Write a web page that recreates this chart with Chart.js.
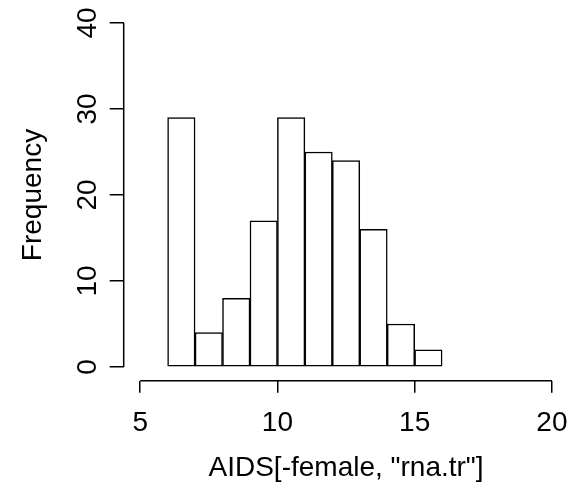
<!DOCTYPE html>
<html>
<head>
<meta charset="utf-8">
<script src="https://cdn.jsdelivr.net/npm/chart.js@4/dist/chart.umd.min.js"></script>
<style>
html,body{margin:0;padding:0;background:#fff;}
#wrap{width:582px;height:486px;position:relative;}
</style>
</head>
<body>
<div id="wrap"><canvas id="c" width="582" height="486"></canvas></div>
<script>
// Histogram data (bin edges and counts)
const binStarts = [6, 7, 8, 9, 10, 11, 12, 13, 14, 15];
const binWidth = 1;
const counts = [29, 4, 8, 17, 29, 25, 24, 16, 5, 2];
const xTicks = [5, 10, 15, 20];
const yTicks = [0, 10, 20, 30, 40];
const xTitle = 'AIDS[-female, "rna.tr"]';
const yTitle = 'Frequency';

const FONT = '"Liberation Sans", Arial, Helvetica, sans-serif';
const FS = 28;

const barData = binStarts.map((s, i) => ({x: s + binWidth / 2, y: counts[i]}));

const rAxes = {
  id: 'rAxes',
  afterDraw(chart) {
    const ctx = chart.ctx;
    const xs = chart.scales.x, ys = chart.scales.y;
    const ca = chart.chartArea;
    ctx.save();
    ctx.strokeStyle = '#000';
    ctx.lineWidth = 1.5;
    ctx.lineCap = 'butt';
    // x axis line
    ctx.beginPath();
    ctx.moveTo(xs.getPixelForValue(xTicks[0]), ca.bottom);
    ctx.lineTo(xs.getPixelForValue(xTicks[xTicks.length - 1]), ca.bottom);
    ctx.stroke();
    // y axis line
    ctx.beginPath();
    ctx.moveTo(ca.left, ys.getPixelForValue(yTicks[0]));
    ctx.lineTo(ca.left, ys.getPixelForValue(yTicks[yTicks.length - 1]));
    ctx.stroke();
    // rotated y tick labels
    ctx.fillStyle = '#000';
    ctx.font = FS + 'px ' + FONT;
    ctx.textAlign = 'center';
    ctx.textBaseline = 'alphabetic';
    ys.ticks.forEach(t => {
      const y = ys.getPixelForValue(t.value);
      ctx.save();
      ctx.translate(ca.left - 27.7, y);
      ctx.rotate(-Math.PI / 2);
      ctx.fillText(String(t.value), 0, 0);
      ctx.restore();
    });
    ctx.restore();
  }
};

new Chart(document.getElementById('c'), {
  type: 'bar',
  data: {
    datasets: [{
      data: barData,
      backgroundColor: '#ffffff',
      borderColor: '#000000',
      borderWidth: 1.5,
      borderSkipped: false,
      barPercentage: 1.0,
      categoryPercentage: 1.0
    }]
  },
  options: {
    responsive: false,
    animation: false,
    devicePixelRatio: 1,
    layout: {padding: {top: 9.2, right: 13.5, left: 0, bottom: 0}},
    plugins: {legend: {display: false}, tooltip: {enabled: false}},
    scales: {
      x: {
        type: 'linear',
        offset: false,
        min: 4.4,
        max: 20.6,
        afterBuildTicks(s) { s.ticks = xTicks.map(v => ({value: v})); },
        afterFit(s) { s.height = 486 - 380.8; },
        border: {display: false},
        grid: {offset: false, drawOnChartArea: false, drawTicks: true, tickLength: 12, color: '#000', lineWidth: 1.5},
        ticks: {autoSkip: false, maxRotation: 0, minRotation: 0, padding: 14, color: '#000',
                font: {family: FONT, size: FS}},
        title: {display: true, text: xTitle, color: '#000', font: {family: FONT, size: FS},
                padding: {top: 0, bottom: 1}}
      },
      y: {
        type: 'linear',
        min: -1.6,
        max: 41.6,
        afterBuildTicks(s) { s.ticks = yTicks.map(v => ({value: v})); },
        afterFit(s) { s.width = 123.7; },
        border: {display: false},
        grid: {drawOnChartArea: false, drawTicks: true, tickLength: 14, color: '#000', lineWidth: 1.5},
        ticks: {display: false},
        title: {display: true, text: yTitle, color: '#000', font: {family: FONT, size: FS},
                padding: {top: 16, bottom: 0}}
      }
    }
  },
  plugins: [rAxes]
});
</script>
</body>
</html>
